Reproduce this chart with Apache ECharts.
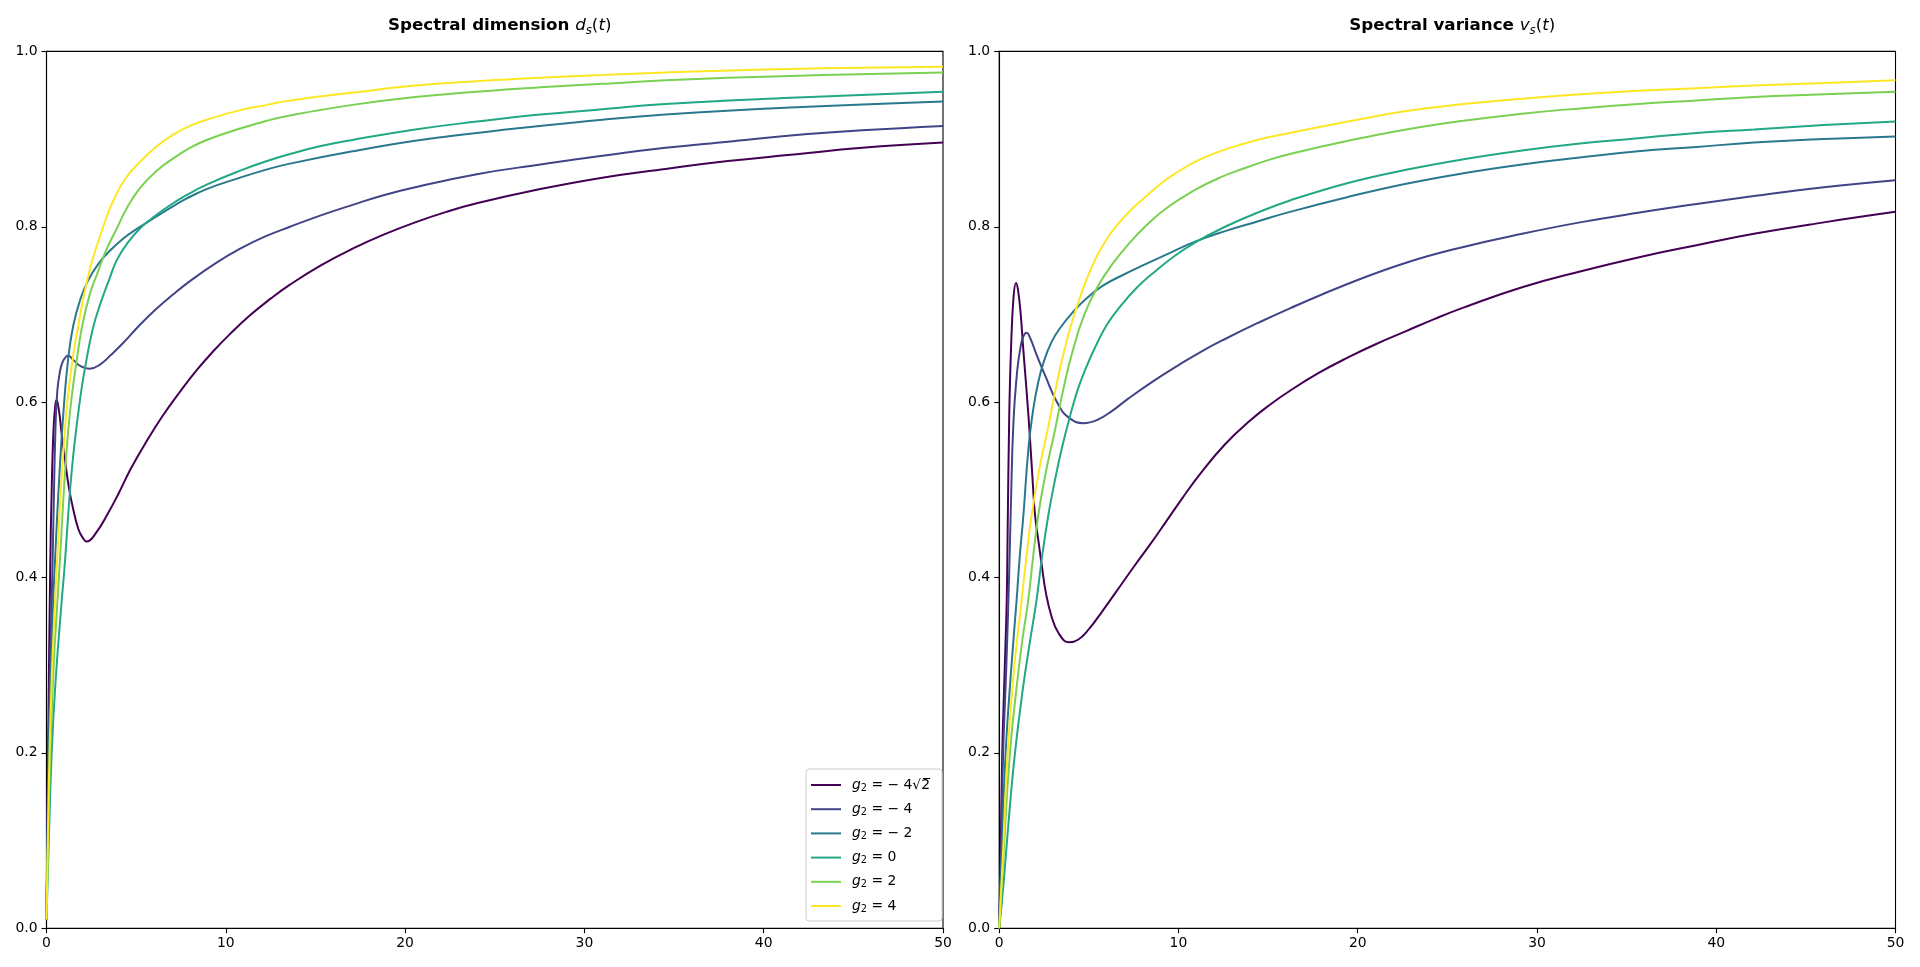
<!DOCTYPE html>
<html>
<head>
<meta charset="utf-8">
<title>Spectral dimension and variance</title>
<script src="https://cdn.jsdelivr.net/npm/echarts@6/dist/echarts.min.js"></script>
<style>
  html, body { margin: 0; padding: 0; background: #fff; }
  #chart { width: 1920px; height: 967px; }
</style>
</head>
<body>
<div id="chart"></div>
<script>
// couplings, one curve per value, viridis colours
var couplings = ['-4sqrt2', '-4', '-2', '0', '2', '4'];
var legendLabels = ['\u2212 4\u221a2\u0305', '\u2212 4', '\u2212 2', '0', '2', '4'];
var colors = ['#440154', '#414487', '#2a788e', '#22a884', '#7ad151', '#fde725'];

var xTicks = [0, 10, 20, 30, 40, 50];
var yTicks = [0, 0.2, 0.4, 0.6, 0.8, 1.0];

// spectral dimension d_s(t), pairs [t, value]
var dsMinus4Sqrt2 = [[0,0.01],[0.05,0.12],[0.1,0.22],[0.2,0.4],[0.3,0.51],[0.4,0.572],[0.5,0.598],[0.57,0.602],[0.65,0.596],[0.75,0.582],[0.85,0.563],[1.03,0.534],[1.27,0.5],[1.5,0.477],[1.78,0.455],[2.0,0.446],[2.24,0.441],[2.8,0.452],[3.4,0.472],[4.0,0.495],[4.7,0.524],[5.6,0.556],[6.5,0.585],[7.45,0.612],[8.4,0.637],[9.3,0.658],[10.2,0.677],[11.35,0.699],[12.5,0.718],[13.58,0.734],[15.3,0.756],[17.07,0.775],[18.8,0.791],[20.56,0.805],[22.3,0.817],[24.05,0.827],[27.54,0.843],[31,0.856],[34.52,0.866],[38,0.875],[41.5,0.882],[45.5,0.89],[50,0.896]];
var dsMinus4 = [[0,0.01],[0.05,0.1],[0.1,0.19],[0.2,0.3],[0.3,0.38],[0.4,0.48],[0.5,0.57],[0.6,0.612],[0.75,0.635],[0.9,0.646],[1.1,0.652],[1.22,0.653],[1.5,0.648],[1.9,0.641],[2.4,0.638],[3.0,0.643],[3.6,0.654],[4.3,0.668],[5.2,0.688],[6.1,0.706],[7.07,0.723],[8.0,0.738],[9.4,0.758],[10.8,0.775],[12.2,0.789],[13.58,0.8],[15.3,0.813],[17.07,0.825],[18.8,0.836],[20.56,0.845],[24,0.86],[27.54,0.871],[31,0.881],[34.52,0.89],[38,0.897],[41.5,0.904],[45.5,0.91],[50,0.915]];
var dsMinus2 = [[0,0.01],[0.1,0.16],[0.2,0.26],[0.35,0.36],[0.5,0.43],[0.7,0.51],[0.95,0.59],[1.2,0.648],[1.5,0.688],[1.9,0.718],[2.3,0.738],[2.9,0.758],[3.5,0.772],[4.3,0.787],[5.0,0.797],[6.0,0.81],[6.7,0.819],[7.8,0.832],[8.93,0.843],[10.8,0.856],[12.4,0.866],[13.58,0.872],[17.07,0.886],[20.56,0.898],[24,0.907],[27.54,0.915],[31,0.922],[34.52,0.928],[41.5,0.936],[50,0.943]];
var dsZero = [[0,0.01],[0.1,0.08],[0.29,0.2],[0.5,0.28],[0.85,0.374],[1.0,0.41],[1.4,0.52],[1.85,0.6],[2.2,0.645],[2.6,0.685],[3.0,0.712],[3.5,0.74],[3.92,0.762],[4.5,0.781],[5.21,0.798],[5.9,0.81],[6.7,0.822],[7.8,0.836],[8.93,0.848],[10.8,0.864],[12.3,0.875],[13.58,0.883],[15.3,0.892],[17.07,0.899],[20.56,0.911],[24,0.92],[27.54,0.928],[31,0.934],[34.52,0.94],[41.5,0.947],[50,0.954]];
var dsPlus2 = [[0,0.01],[0.1,0.11],[0.2,0.19],[0.4,0.3],[0.6,0.37],[0.75,0.42],[1.0,0.51],[1.2,0.565],[1.4,0.605],[1.7,0.65],[2.0,0.688],[2.4,0.722],[2.8,0.745],[3.3,0.772],[3.92,0.798],[4.5,0.822],[5.21,0.844],[6.1,0.863],[7.07,0.878],[8.0,0.89],[8.93,0.899],[10.8,0.912],[12.3,0.921],[13.58,0.927],[17.07,0.939],[20.56,0.948],[24,0.954],[27.54,0.959],[31,0.963],[34.52,0.967],[41.5,0.972],[50,0.976]];
var dsPlus4 = [[0,0.01],[0.1,0.13],[0.17,0.2],[0.3,0.29],[0.47,0.37],[0.62,0.43],[0.8,0.5],[1.0,0.56],[1.16,0.6],[1.5,0.655],[1.8,0.69],[2.05,0.718],[2.4,0.75],[2.8,0.778],[3.3,0.808],[3.73,0.83],[4.4,0.855],[5.21,0.874],[6.1,0.891],[7.07,0.905],[8.0,0.915],[8.93,0.922],[10.8,0.933],[12.3,0.939],[13.58,0.944],[17.07,0.953],[20.56,0.961],[24,0.966],[27.54,0.97],[31,0.973],[34.52,0.976],[41.5,0.98],[50,0.9825]];

// spectral variance v_s(t), right panel
var vsMinus4Sqrt2 = [[0,0],[0.08,0.08],[0.17,0.2],[0.3,0.29],[0.42,0.374],[0.47,0.45],[0.56,0.585],[0.66,0.661],[0.8,0.72],[0.94,0.736],[1.05,0.728],[1.2,0.7],[1.34,0.661],[1.63,0.585],[1.87,0.509],[2.0,0.471],[2.2,0.44],[2.4,0.41],[2.6,0.383],[2.9,0.357],[3.3,0.337],[3.9,0.326],[4.4,0.329],[5.0,0.341],[5.7,0.36],[6.5,0.383],[7.5,0.412],[8.5,0.44],[9.25,0.462],[10.2,0.49],[11.2,0.518],[12.6,0.552],[14,0.579],[15.1,0.597],[16.22,0.613],[17.8,0.633],[19.46,0.651],[21,0.666],[22.7,0.681],[24.3,0.695],[25.93,0.708],[29.17,0.731],[32.4,0.749],[35.64,0.765],[38.9,0.779],[42.1,0.792],[46,0.805],[50,0.817]];
var vsMinus4 = [[0,0],[0.1,0.08],[0.22,0.2],[0.4,0.3],[0.55,0.4],[0.65,0.48],[0.79,0.575],[1.0,0.635],[1.2,0.664],[1.35,0.675],[1.53,0.679],[1.75,0.672],[2.05,0.656],[2.55,0.631],[3.3,0.597],[3.9,0.582],[4.69,0.576],[5.5,0.58],[6.3,0.59],[7.2,0.604],[8.6,0.624],[9.99,0.642],[11.3,0.658],[12.6,0.672],[14.4,0.69],[16.22,0.707],[19.46,0.735],[22.7,0.759],[25.9,0.777],[29.17,0.792],[32.4,0.805],[35.64,0.816],[38.9,0.826],[42.1,0.835],[46,0.845],[50,0.853]];
var vsMinus2 = [[0,0],[0.15,0.09],[0.36,0.2],[0.65,0.29],[0.97,0.374],[1.15,0.425],[1.35,0.471],[1.63,0.547],[1.9,0.592],[2.18,0.623],[2.5,0.647],[2.93,0.669],[3.45,0.686],[4.04,0.701],[4.8,0.717],[5.72,0.732],[6.9,0.745],[8.13,0.757],[9.5,0.77],[10.92,0.783],[12.6,0.795],[14.4,0.806],[16.22,0.817],[19.46,0.834],[22.7,0.849],[25.9,0.861],[29.17,0.871],[32.4,0.879],[35.64,0.886],[38.9,0.891],[42.1,0.896],[46,0.9],[50,0.903]];
var vsZero = [[0,0],[0.15,0.03],[0.32,0.07],[0.6,0.14],[0.88,0.2],[1.3,0.27],[1.7,0.325],[2.08,0.374],[2.4,0.425],[2.74,0.471],[3.1,0.51],[3.49,0.547],[3.95,0.584],[4.41,0.616],[4.9,0.642],[5.34,0.662],[6.0,0.688],[6.83,0.711],[7.7,0.731],[8.69,0.749],[9.8,0.767],[10.92,0.782],[12.6,0.8],[14.4,0.816],[16.22,0.83],[19.46,0.85],[22.7,0.865],[25.9,0.877],[29.17,0.887],[32.4,0.895],[35.64,0.901],[38.9,0.907],[42.1,0.911],[46,0.916],[50,0.92]];
var vsPlus2 = [[0,0],[0.2,0.07],[0.6,0.2],[1.0,0.28],[1.3,0.33],[1.62,0.374],[1.9,0.425],[2.18,0.471],[2.6,0.52],[3.11,0.568],[3.55,0.612],[4.04,0.654],[4.75,0.7],[5.53,0.733],[6.3,0.757],[7.2,0.78],[8.13,0.8],[9.25,0.82],[10.92,0.842],[12.3,0.856],[13.71,0.867],[15,0.876],[16.22,0.883],[19.46,0.898],[22.7,0.911],[25.9,0.921],[29.17,0.929],[32.4,0.935],[35.64,0.94],[38.9,0.944],[42.1,0.948],[46,0.951],[50,0.954]];
var vsPlus4 = [[0,0],[0.2,0.08],[0.47,0.2],[0.85,0.3],[1.25,0.374],[1.5,0.42],[1.81,0.471],[2.25,0.525],[2.74,0.572],[3.1,0.61],[3.49,0.647],[4.04,0.69],[4.69,0.73],[5.34,0.762],[6.2,0.792],[7.2,0.816],[8.1,0.833],[9.06,0.85],[10,0.863],[10.92,0.874],[12.3,0.886],[13.71,0.895],[15,0.902],[16.22,0.907],[19.46,0.92],[22.7,0.932],[25.9,0.94],[29.17,0.946],[32.4,0.951],[35.64,0.955],[38.9,0.958],[42.1,0.961],[46,0.964],[50,0.967]];

var dsData = [dsMinus4Sqrt2, dsMinus4, dsMinus2, dsZero, dsPlus2, dsPlus4];
var vsData = [vsMinus4Sqrt2, vsMinus4, vsMinus2, vsZero, vsPlus2, vsPlus4];

var FONT = 'DejaVu Sans';
var chart = echarts.init(document.getElementById('chart'), null, { renderer: 'canvas' });

function xAxisFor(idx) {
  return {
    type: 'value', gridIndex: idx, min: xTicks[0], max: xTicks[xTicks.length - 1], interval: 10,
    axisLine: { show: true, onZero: false, lineStyle: { color: '#000', width: 1.1 } },
    axisTick: { show: true, inside: false, length: 5, lineStyle: { color: '#000', width: 1.1 } },
    axisLabel: { color: '#000', fontFamily: FONT, fontSize: 13.9, margin: 8 },
    splitLine: { show: false }
  };
}
function yAxisFor(idx) {
  return {
    type: 'value', gridIndex: idx, min: yTicks[0], max: yTicks[yTicks.length - 1], interval: 0.2,
    axisLine: { show: true, onZero: false, lineStyle: { color: '#000', width: 1.1 } },
    axisTick: { show: true, inside: false, length: 5, lineStyle: { color: '#000', width: 1.1 } },
    axisLabel: { color: '#000', fontFamily: FONT, fontSize: 13.9, margin: 9,
      formatter: function (v) { return v.toFixed(1); } },
    splitLine: { show: false }
  };
}

var titleRich = {
  b: { fontFamily: FONT, fontWeight: 'bold', fontSize: 16.7, color: '#000', lineHeight: 22 },
  i: { fontFamily: FONT, fontWeight: 'normal', fontStyle: 'italic', fontSize: 16.7, color: '#000', lineHeight: 22 },
  n: { fontFamily: FONT, fontWeight: 'normal', fontSize: 16.7, color: '#000', lineHeight: 22 },
  s: { fontFamily: FONT, fontWeight: 'normal', fontStyle: 'italic', fontSize: 11.7, color: '#000', lineHeight: 12, verticalAlign: 'bottom' }
};

var series = [];
couplings.forEach(function (c, k) {
  series.push({
    name: c, type: 'line', xAxisIndex: 0, yAxisIndex: 0, data: dsData[k],
    showSymbol: false, smooth: 0.45,
    lineStyle: { color: colors[k], width: 2 }, itemStyle: { color: colors[k] }
  });
});
couplings.forEach(function (c, k) {
  series.push({
    name: c, type: 'line', xAxisIndex: 1, yAxisIndex: 1, data: vsData[k],
    showSymbol: false, smooth: 0.45,
    lineStyle: { color: colors[k], width: 2 }, itemStyle: { color: colors[k] }
  });
});

var option = {
  animation: false,
  backgroundColor: '#fff',
  title: [
    { text: '{b|Spectral dimension }{i|d}{s|s}{n|(}{i|t}{n|)}', left: 494.7, top: 10, textAlign: 'center',
      textStyle: { fontWeight: 'normal', rich: titleRich } },
    { text: '{b|Spectral variance }{i|v}{s|s}{n|(}{i|t}{n|)}', left: 1447.3, top: 10, textAlign: 'center',
      textStyle: { fontWeight: 'normal', rich: titleRich } }
  ],
  grid: [
    { left: 46.5, right: 977, top: 51.4, bottom: 38.8, show: true, borderColor: '#000', borderWidth: 1.1, backgroundColor: 'transparent' },
    { left: 999.2, right: 24.5, top: 51.4, bottom: 38.8, show: true, borderColor: '#000', borderWidth: 1.1, backgroundColor: 'transparent' }
  ],
  xAxis: [xAxisFor(0), xAxisFor(1)],
  yAxis: [yAxisFor(0), yAxisFor(1)],
  legend: {
    data: couplings.map(function (c) { return { name: c, icon: 'rect' }; }),
    orient: 'vertical', left: 806, top: 769,
    itemWidth: 30, itemHeight: 2, itemGap: 8.2,
    padding: [8, 12, 7, 5],
    backgroundColor: '#fff', borderColor: '#cccccc', borderWidth: 1, borderRadius: 3,
    selectedMode: false,
    formatter: function (name) {
      var k = couplings.indexOf(name);
      return '{g|g}{sub|2}{n| = ' + legendLabels[k] + '}';
    },
    textStyle: {
      color: '#000', fontFamily: FONT, fontSize: 13.9, lineHeight: 16,
      rich: {
        g: { fontFamily: FONT, fontStyle: 'italic', fontSize: 13.9, color: '#000', lineHeight: 16, padding: [0, 0, 0, 6] },
        sub: { fontFamily: FONT, fontSize: 9.7, color: '#000', lineHeight: 10, verticalAlign: 'bottom' },
        n: { fontFamily: FONT, fontSize: 13.9, color: '#000', lineHeight: 16 }
      }
    }
  },
  series: series
};

chart.setOption(option);
</script>
</body>
</html>
